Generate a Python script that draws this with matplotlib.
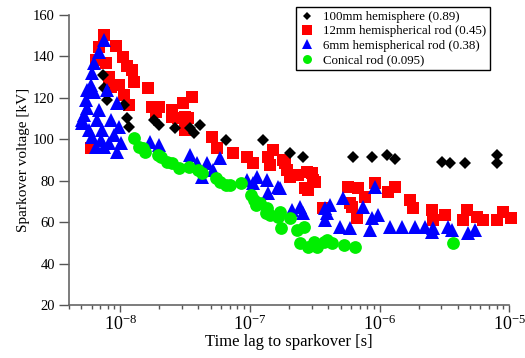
import matplotlib
matplotlib.use("Agg")
import matplotlib.pyplot as plt
import numpy as np

plt.rcParams['font.family'] = ['Liberation Serif', 'DejaVu Serif']
plt.rcParams['mathtext.fontset'] = 'custom'
plt.rcParams['mathtext.rm'] = 'Liberation Serif'
plt.rcParams['mathtext.it'] = 'Liberation Serif:italic'
plt.rcParams['mathtext.bf'] = 'Liberation Serif:bold'
plt.rcParams['axes.unicode_minus'] = False

# 100mm hemisphere (0.89)
t_black = [7.39e-9, 7.52e-9, 7.93e-9, 1.07e-8, 1.13e-8, 1.17e-8, 1.83e-8, 2.0e-8, 2.62e-8,
           3.42e-8, 3.73e-8, 4.08e-8, 6.49e-8, 1.25e-7, 2.03e-7, 2.56e-7, 6.2e-7, 8.7e-7,
           1.14e-6, 1.31e-6, 3.04e-6, 3.5e-6, 4.57e-6, 8.1e-6, 8.1e-6]
v_black = [131.1, 124.8, 119.0, 116.6, 110.3, 106.0, 109.3, 106.9, 105.5,
           105.5, 103.0, 106.9, 99.7, 99.7, 93.4, 91.5, 91.5, 91.5,
           92.4, 90.5, 89.1, 88.6, 88.6, 92.4, 88.6]

# 12mm hemispherical rod (0.45)
t_red = [5.97e-9, 6.88e-9, 7.52e-9, 7.8e-9, 6.52e-9, 8.22e-9, 8.52e-9, 9.31e-9, 9.82e-9,
         1.04e-8, 1.13e-8, 1.24e-8, 1.28e-8, 1.07e-8, 1.17e-8, 1.62e-8, 1.74e-8, 2.0e-8,
         1.90e-8, 2.52e-8, 2.52e-8, 3.02e-8, 3.13e-8, 3.54e-8, 2.76e-8, 3.30e-8, 3.13e-8,
         5.06e-8, 5.52e-8, 7.35e-8, 9.42e-8, 1.05e-7, 1.37e-7, 1.50e-7, 1.42e-7, 1.79e-7,
         1.85e-7, 1.92e-7, 2.03e-7, 2.34e-7, 2.75e-7, 3.0e-7, 3.05e-7, 2.65e-7, 2.79e-7,
         3.16e-7, 3.65e-7, 5.70e-7, 6.81e-7, 5.90e-7, 6.12e-7, 6.69e-7, 7.71e-7, 9.2e-7,
         1.16e-6, 1.32e-6, 1.72e-6, 1.81e-6, 2.54e-6, 2.60e-6, 3.21e-6, 4.42e-6, 4.74e-6,
         5.66e-6, 6.31e-6, 8.09e-6, 9.0e-6, 1.04e-5]
v_red = [95.8, 144.6, 150.4, 136.9, 138.3, 130.1, 125.3, 145.1, 126.2,
         139.7, 135.4, 133.5, 127.7, 121.4, 116.6, 124.8, 115.6, 115.6,
         113.2, 114.2, 110.8, 117.5, 110.8, 120.4, 110.3, 110.3, 104.5,
         101.1, 95.8, 93.4, 91.5, 88.6, 91.5, 94.8, 87.6, 90.0,
         88.6, 85.2, 81.8, 82.8, 84.2, 83.7, 80.4, 76.5, 75.5,
         79.4, 66.8, 77.0, 76.5, 69.3, 67.3, 62.0, 72.1, 78.9,
         74.6, 77.0, 70.7, 66.8, 65.9, 61.0, 63.5, 61.0, 65.9,
         62.5, 61.0, 61.0, 64.9, 62.0]

# 6mm hemispherical rod (0.38)
t_blue = [7.52e-9, 6.88e-9, 6.29e-9, 6.07e-9, 5.97e-9, 6.29e-9, 5.46e-9, 5.56e-9, 5.27e-9,
          7.93e-9, 9.48e-9, 5.08e-9, 6.64e-9, 7.26e-9, 6.07e-9, 9.82e-9, 1.02e-8, 9.48e-9,
          8.22e-9, 7.13e-9, 5.76e-9, 5.08e-9, 6.88e-9, 8.52e-9, 7.52e-9, 8.99e-9, 6.52e-9,
          5.56e-9, 1.68e-8, 2.0e-8, 3.42e-8, 3.87e-8, 4.62e-8, 5.83e-8, 4.23e-8, 5.15e-8,
          9.42e-8, 1.13e-7, 1.35e-7, 1.37e-7, 1.64e-7, 1.05e-7, 1.70e-7, 2.10e-7, 2.42e-7,
          2.56e-7, 3.78e-7, 3.93e-7, 3.78e-7, 4.13e-7, 5.21e-7, 4.94e-7, 5.90e-7, 7.45e-7,
          8.73e-7, 8.43e-7, 9.72e-7, 9.2e-7, 1.20e-6, 1.49e-6, 1.88e-6, 2.24e-6, 2.59e-6,
          2.54e-6, 3.38e-6, 3.63e-6, 4.83e-6, 5.47e-6]
v_blue = [148.0, 142.2, 136.9, 132.0, 126.2, 122.8, 119.0, 115.1, 111.7,
          123.8, 117.5, 109.3, 109.3, 104.5, 101.1, 105.9, 98.2, 93.9,
          98.2, 99.7, 104.5, 107.9, 114.2, 109.3, 96.3, 102.0, 96.3,
          123.8, 98.7, 97.3, 92.4, 88.6, 88.6, 91.0, 81.8, 85.2,
          80.4, 81.8, 80.4, 74.1, 77.0, 78.9, 76.5, 65.9, 67.3,
          64.4, 66.8, 64.4, 61.0, 68.3, 71.7, 57.7, 57.2, 67.3,
          62.0, 56.2, 63.5, 77.0, 57.7, 57.7, 57.7, 57.7, 57.2,
          55.2, 57.7, 56.2, 54.8, 56.2]

# Conical rod (0.095)
t_green = [1.28e-8, 1.40e-8, 1.50e-8, 1.55e-8, 1.95e-8, 2.05e-8, 2.3e-8, 2.5e-8, 2.85e-8,
           3.4e-8, 4.0e-8, 4.3e-8, 5.5e-8, 5.9e-8, 6.5e-8, 7.0e-8, 8.5e-8, 1.02e-7,
           1.08e-7, 1.12e-7, 1.2e-7, 1.35e-7, 1.32e-7, 1.42e-7, 1.70e-7, 1.75e-7, 1.65e-7,
           2.03e-7, 2.3e-7, 2.6e-7, 2.45e-7, 2.8e-7, 3.1e-7, 3.3e-7, 3.7e-7, 3.9e-7,
           4.3e-7, 5.3e-7, 6.5e-7, 3.7e-6]
v_green = [100.6, 96.3, 95.8, 94.0, 92.4, 91.5, 89.0, 88.5, 86.2,
           86.6, 85.2, 83.7, 81.3, 79.4, 78.0, 77.9, 79.0, 73.1,
           70.7, 68.3, 69.2, 66.8, 64.4, 63.5, 64.9, 57.2, 62.5,
           62.0, 56.2, 57.7, 49.9, 48.0, 50.5, 48.0, 50.4, 51.4,
           49.9, 49.0, 48.0, 49.9]

labels = ['100mm hemisphere (0.89)', '12mm hemispherical rod (0.45)',
          '6mm hemispherical rod (0.38)', 'Conical rod (0.095)']

fig = plt.figure(figsize=(5.25, 3.58), dpi=100)
ax = fig.add_axes([0.131, 0.148, 0.839, 0.810])

ax.plot(t_red, v_red, 's', color='#ff0000', ms=9.3, mew=0, label=labels[1], zorder=2, clip_on=False)
ax.plot(t_black, v_black, 'D', color='black', ms=6.5, mew=0, label=labels[0], zorder=3)
ax.plot(t_blue, v_blue, '^', color='#0000ff', ms=10, mew=0, label=labels[2], zorder=4)
ax.plot(t_green, v_green, 'o', color='#00ee00', ms=9.2, mew=0, label=labels[3], zorder=5)

ax.set_xscale('log')
ax.set_xlim(4e-9, 1e-5)
ax.set_ylim(20, 160)
ax.set_yticks(np.arange(20, 161, 20))

for s in ['top', 'right']:
    ax.spines[s].set_visible(False)
for s in ['left', 'bottom']:
    ax.spines[s].set_color('#666666')
    ax.spines[s].set_linewidth(1.2)

ax.tick_params(axis='y', which='major', direction='out', length=7, width=1, color='#555555',
               labelsize=10.5, pad=3)
ax.tick_params(axis='x', which='major', direction='out', length=5, width=1, color='#555555',
               labelsize=13, pad=2)
ax.tick_params(axis='x', which='minor', direction='out', length=3, width=1, color='#555555')

ax.set_xlabel('Time lag to sparkover [s]', fontsize=12, labelpad=0)
ax.set_ylabel('Sparkover voltage [kV]', fontsize=11, labelpad=2)

handles, labs = ax.get_legend_handles_labels()
order = [1, 0, 2, 3]
leg = ax.legend([handles[i] for i in order], [labs[i] for i in order],
                loc='upper right', bbox_to_anchor=(0.933, 0.980),
                bbox_transform=fig.transFigure, borderaxespad=0, fancybox=False,
                edgecolor='black', framealpha=1, fontsize=9.3, markerscale=0.7,
                handlelength=1.2, labelspacing=0.18, borderpad=0.3, handletextpad=0.6)
leg.get_frame().set_linewidth(1.0)

fig.savefig('out.png', dpi=100)
